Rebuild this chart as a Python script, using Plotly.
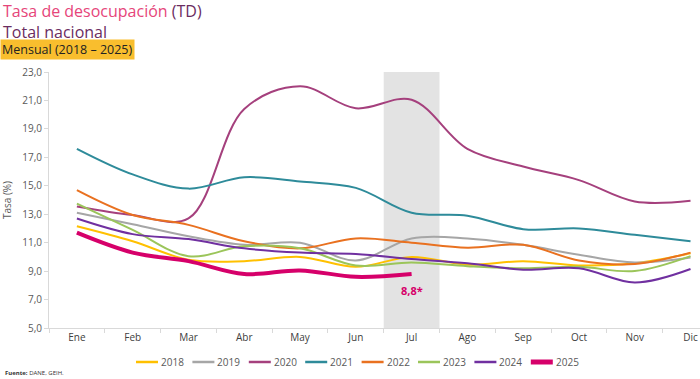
import plotly.graph_objects as go

months = ["Ene", "Feb", "Mar", "Abr", "May", "Jun", "Jul", "Ago", "Sep", "Oct", "Nov", "Dic"]

v2018 = [12.15, 11.1, 9.8, 9.7, 10.0, 9.3, 10.0, 9.45, 9.7, 9.4, 9.55, 10.25]
v2019 = [13.1, 12.3, 11.45, 10.85, 11.0, 9.75, 11.3, 11.3, 10.85, 10.15, 9.6, 9.95]
v2020 = [13.55, 12.95, 12.7, 20.4, 22.0, 20.45, 21.05, 17.6, 16.35, 15.4, 13.9, 13.95]
v2021 = [17.6, 15.8, 14.8, 15.6, 15.3, 14.85, 13.1, 12.9, 11.95, 12.0, 11.55, 11.1]
v2022 = [14.7, 12.95, 12.25, 11.1, 10.6, 11.3, 11.0, 10.65, 10.85, 9.75, 9.5, 10.3]
v2023 = [13.75, 11.9, 10.05, 10.75, 10.6, 9.4, 9.6, 9.35, 9.2, 9.3, 9.0, 10.05]
v2024 = [12.7, 11.6, 11.25, 10.6, 10.3, 10.2, 9.85, 9.55, 9.1, 9.2, 8.2, 9.15]
v2025 = [11.7, 10.3, 9.7, 8.8, 9.05, 8.6, 8.8]

series = [
    ("2018", v2018, "#FFC000", 2),
    ("2019", v2019, "#A6A6A6", 2),
    ("2020", v2020, "#A5407D", 2),
    ("2021", v2021, "#2E8B9A", 2),
    ("2022", v2022, "#E97120", 2),
    ("2023", v2023, "#9BC55A", 2),
    ("2024", v2024, "#7030A0", 2),
    ("2025", v2025, "#D6006A", 4),
]

y_ticks = [5, 7, 9, 11, 13, 15, 17, 19, 21, 23]
y_tick_text = ["5,0", "7,0", "9,0", "11,0", "13,0", "15,0", "17,0", "19,0", "21,0", "23,0"]

FONT = "Open Sans"
ML, MR, MT, MB = 49, 0, 72, 51
W, H = 700, 379
PW, PH = W - ML - MR, H - MT - MB


def px(x):
    return (x - ML) / PW


def py(y):
    return (H - MB - y) / PH


fig = go.Figure()

for name, vals, color, width in series:
    fig.add_trace(go.Scatter(
        x=months[:len(vals)], y=vals, name=name, mode="lines",
        line=dict(color=color, width=width, shape="spline"),
        showlegend=False,
    ))

# shaded current month band
fig.add_shape(type="rect", xref="x", yref="y", x0=5.5, x1=6.5, y0=5, y1=23,
              fillcolor="#E3E3E3", line=dict(width=0), layer="below")

fig.add_annotation(x=months[len(v2025) - 1], y=v2025[-1], xref="x", yref="y",
                   text="<b>8,8*</b>", showarrow=False, yshift=-17,
                   font=dict(family=FONT, size=11, color="#D6006A"))

# manual legend
leg_x0, leg_step, leg_y = 136, 56.4, 362
for i, (name, vals, color, width) in enumerate(series):
    x0 = leg_x0 + i * leg_step
    fig.add_shape(type="line", xref="paper", yref="paper",
                  x0=px(x0), x1=px(x0 + 22), y0=py(leg_y), y1=py(leg_y),
                  line=dict(color=color, width=width + 1 if width > 2 else 2.5))
    fig.add_annotation(xref="paper", yref="paper", x=px(x0 + 23), y=py(leg_y),
                       xanchor="left", yanchor="middle", text=name, showarrow=False,
                       font=dict(family=FONT, size=10, color="#595959"))

# titles (two lines in a single block)
fig.add_annotation(xref="paper", yref="paper", x=px(1), y=py(21.5), xanchor="left", yanchor="middle",
                   align="left",
                   text="<span style='color:#E6457A'>Tasa de desocupación</span> "
                        "<span style='color:#6B2C5F'>(TD)</span><br>"
                        "<span style='color:#6B2C5F'>Total nacional</span>",
                   showarrow=False, font=dict(family=FONT, size=16))
fig.add_annotation(xref="paper", yref="paper", x=px(0), y=py(49.5), xanchor="left", yanchor="middle",
                   text="Mensual (2018 – 2025)", showarrow=False, bgcolor="#F9BE2E", borderpad=1,
                   font=dict(family=FONT, size=12.5, color="#222222"))
fig.add_annotation(xref="paper", yref="paper", x=px(3), y=py(372.5), xanchor="left", yanchor="middle",
                   text="<b>Fuente:</b> DANE, GEIH.", showarrow=False,
                   font=dict(family=FONT, size=6, color="#333333"))

fig.update_layout(
    width=W, height=H,
    margin=dict(l=ML, r=MR, t=MT, b=MB, autoexpand=False),
    paper_bgcolor="white", plot_bgcolor="white",
    font=dict(family=FONT, size=10, color="#595959"),
    showlegend=False,
    xaxis=dict(type="category", categoryorder="array", categoryarray=months,
               range=[-0.5, 11.17], showgrid=False, showline=True, linecolor="#D9D9D9",
               ticks="outside", tickson="boundaries", ticklen=4, tickcolor="#D9D9D9",
               tickfont=dict(size=10, color="#404040"), zeroline=False, automargin=False),
    yaxis=dict(range=[5, 23], tickvals=y_ticks, ticktext=y_tick_text, showgrid=False,
               showline=True, linecolor="#D9D9D9", ticks="outside", ticklen=4, tickcolor="#D9D9D9",
               tickfont=dict(size=10, color="#595959"), zeroline=False, automargin=False,
               title=dict(text="Tasa (%)", font=dict(size=10, color="#595959"), standoff=8)),
)

fig.write_html("out.html", config={"displayModeBar": False},
               post_script="document.body.style.margin='0';document.body.style.padding='0';")
